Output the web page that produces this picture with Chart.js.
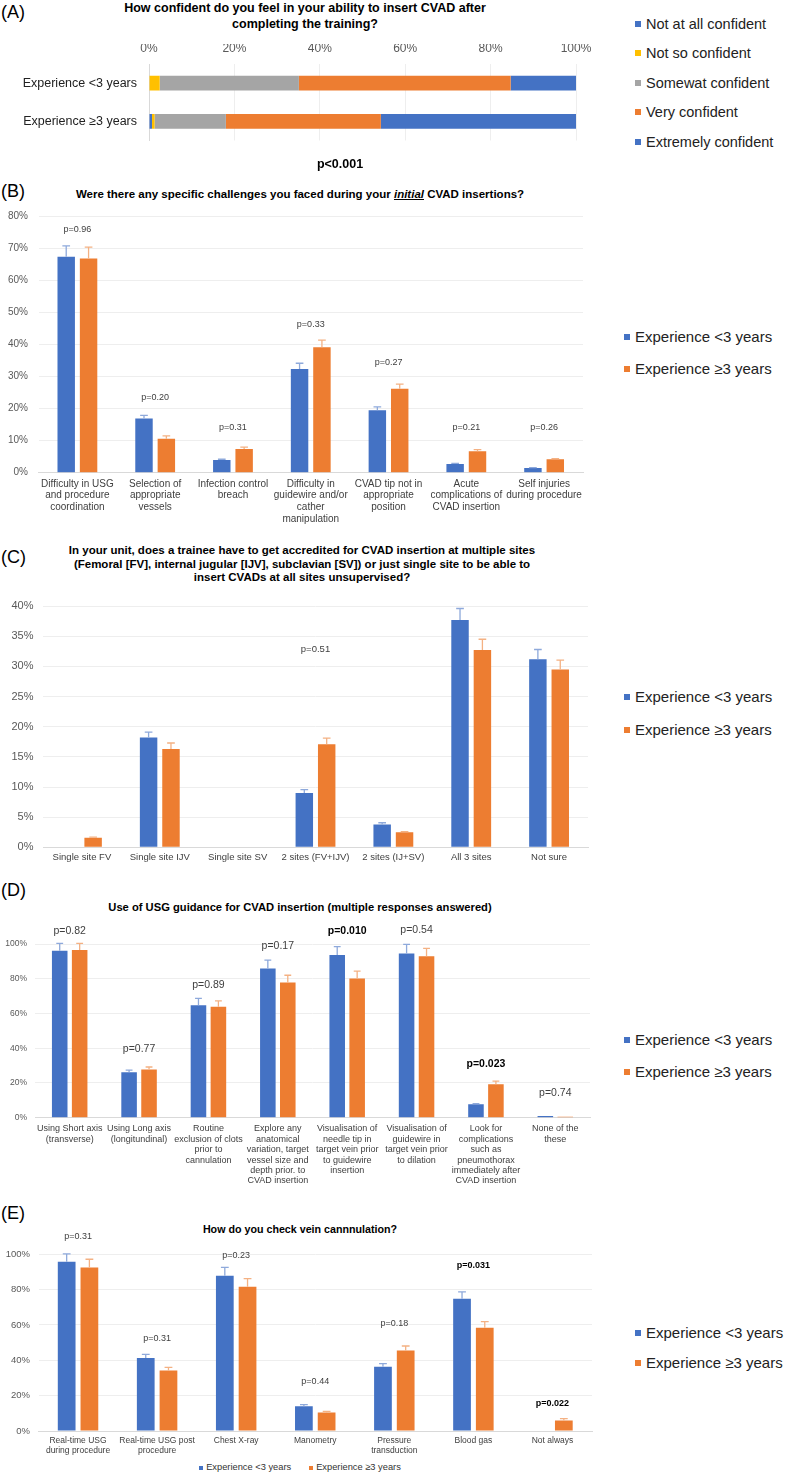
<!DOCTYPE html>
<html>
<head>
<meta charset="utf-8">
<script src="https://cdn.jsdelivr.net/npm/chart.js@4.4.1/dist/chart.umd.min.js"></script>
<style>
  html, body { margin: 0; padding: 0; background: #fff; }
  body { font-family: "Liberation Sans", Arial, sans-serif; }
  #page { position: relative; width: 790px; height: 1475px; overflow: hidden; background: #fff; }
  canvas { position: absolute; }
  .panel { position: absolute; font-size: 18px; color: #000; line-height: 20px; }
  .title { position: absolute; font-weight: bold; color: #000; text-align: center; white-space: nowrap; }
  .leg { position: absolute; white-space: nowrap; color: #222; }
  .leg span.sq { display: inline-block; width: 6px; height: 6px; margin-right: 5px; vertical-align: middle; position: relative; top: -1px; }
  .txt { position: absolute; white-space: nowrap; }
</style>
</head>
<body>
<div id="page">
  <!-- Panel A -->
  <div class="panel" style="left:1px; top:2px;">(A)</div>
  <div class="title" style="left:55px; width:500px; top:0px; font-size:12.5px; line-height:16px;">How confident do you feel in your ability to insert CVAD after<br>completing the training?</div>
  <canvas id="chartA" width="600" height="130" style="left:0; top:30px; width:600px; height:130px;"></canvas>
  <div class="txt" style="left:290px; width:100px; text-align:center; top:157px; font-weight:bold; font-size:12.5px; line-height:14px;">p&lt;0.001</div>
  <div id="legA"></div>

  <!-- Panel B -->
  <div class="panel" style="left:1px; top:181px;">(B)</div>
  <div class="title" style="left:50px; width:500px; top:187px; font-size:11.5px; line-height:14px;">Were there any specific challenges you faced during your <i><u>initial</u></i> CVAD insertions?</div>
  <canvas id="chartB" width="600" height="326" style="left:0; top:200px; width:600px; height:326px;"></canvas>
  <div id="legB"></div>

  <!-- Panel C -->
  <div class="panel" style="left:1px; top:547px;">(C)</div>
  <div class="title" style="left:52px; width:500px; top:544px; font-size:11.5px; line-height:13.7px;">In your unit, does a trainee have to get accredited for CVAD insertion at multiple sites<br>(Femoral [FV], internal jugular [IJV], subclavian [SV]) or just single site to be able to<br>insert CVADs at all sites unsupervised?</div>
  <canvas id="chartC" width="600" height="278" style="left:0; top:590px; width:600px; height:278px;"></canvas>
  <div id="legC"></div>

  <!-- Panel D -->
  <div class="panel" style="left:1px; top:880px;">(D)</div>
  <div class="title" style="left:50px; width:500px; top:900px; font-size:11.2px; line-height:14px;">Use of USG guidance for CVAD insertion (multiple responses answered)</div>
  <canvas id="chartD" width="600" height="271" style="left:0; top:915px; width:600px; height:271px;"></canvas>
  <div id="legD"></div>

  <!-- Panel E -->
  <div class="panel" style="left:1px; top:1203px;">(E)</div>
  <div class="title" style="left:50px; width:500px; top:1222px; font-size:10.7px; line-height:14px;">How do you check vein cannnulation?</div>
  <canvas id="chartE" width="600" height="226" style="left:0; top:1230px; width:600px; height:226px;"></canvas>
  <div id="legEbottom" class="txt" style="left:150px; width:300px; top:1460px; text-align:center; font-size:9.3px; line-height:14px; color:#333;"></div>
  <div id="legE"></div>
</div>

<script>
// ---------------- DATA ----------------
// Panel A
const confRows = ["Experience <3 years", "Experience \u22653 years"];
const confLevels = ["Not at all confident", "Not so confident", "Somewat confident", "Very confident", "Extremely confident"];
const confNotAtAll = [0, 0.7];
const confNotSo = [2.5, 0.6];
const confSomewhat = [32.6, 16.7];
const confVery = [49.6, 36.3];
const confExtremely = [15.3, 45.7];
const confTicks = [0, 20, 40, 60, 80, 100];

// Groups (series names)
const groupNames = ["Experience <3 years", "Experience \u22653 years"];

// Panel B
const chalLabels = [
  ["Difficulty in USG", "and procedure", "coordination"],
  ["Selection of", "appropriate", "vessels"],
  ["Infection control", "breach"],
  ["Difficulty in", "guidewire and/or", "cather", "manipulation"],
  ["CVAD tip not in", "appropriate", "position"],
  ["Acute", "complications of", "CVAD insertion"],
  ["Self injuries", "during procedure"]
];
const chalLess3 = [67.5, 16.9, 4.0, 32.4, 19.5, 2.7, 1.5];
const chalLess3Err = [70.9, 17.9, 4.2, 34.2, 20.6, 2.9, 1.6];
const chalMore3 = [66.9, 10.6, 7.4, 39.2, 26.2, 6.7, 4.2];
const chalMore3Err = [70.5, 11.5, 8.0, 41.4, 27.7, 7.2, 4.4];
const chalP = ["p=0.96", "p=0.20", "p=0.31", "p=0.33", "p=0.27", "p=0.21", "p=0.26"];
const chalPAt = [76.1, 23.4, 14.0, 46.2, 34.4, 14.0, 14.0];

// Panel C
const siteLabels = ["Single site FV", "Single site IJV", "Single site SV", "2 sites (FV+IJV)", "2 sites (IJ+SV)", "All 3 sites", "Not sure"];
const siteLess3 = [0, 18.2, 0, 9.0, 3.8, 37.7, 31.2];
const siteLess3Err = [null, 19.1, null, 9.55, 4.07, 39.6, 32.8];
const siteMore3 = [1.57, 16.3, 0, 17.1, 2.5, 32.7, 29.5];
const siteMore3Err = [1.68, 17.3, null, 18.1, 2.6, 34.5, 31.05];
const siteP = [null, null, null, "p=0.51", null, null, null];
const sitePAt = [null, null, null, 32.8, null, null, null];

// Panel D
const usgLabels = [
  ["Using Short axis", "(transverse)"],
  ["Using Long axis", "(longitundinal)"],
  ["Routine", "exclusion of clots", "prior to", "cannulation"],
  ["Explore any", "anatomical", "variation, target", "vessel size and", "depth prior. to", "CVAD insertion"],
  ["Visualisation of", "needle tip in", "target vein prior", "to guidewire", "insertion"],
  ["Visualisation of", "guidewire in", "target vein prior", "to dilation"],
  ["Look for", "complications", "such as", "pneumothorax", "immediately after", "CVAD insertion"],
  ["None of the", "these"]
];
const usgLess3 = [96.1, 26.1, 64.7, 85.9, 93.6, 94.6, 7.7, 1.0];
const usgLess3Err = [100.4, 27.4, 68.7, 90.7, 98.5, 99.8, 8.1, null];
const usgMore3 = [96.5, 27.8, 63.9, 77.8, 80.1, 92.9, 19.3, 0.6];
const usgMore3Err = [100.4, 29.2, 67.2, 82.0, 84.4, 97.5, 21.0, null];
const usgP = ["p=0.82", "p=0.77", "p=0.89", "p=0.17", "p=0.010", "p=0.54", "p=0.023", "p=0.74"];
const usgPAt = [107.7, 39.6, 76.4, 98.8, 107.3, 108.1, 30.9, 13.9];
const usgPBold = [false, false, false, false, true, false, true, false];

// Panel E
const checkLabels = [
  ["Real-time USG", "during procedure"],
  ["Real-time USG post", "procedure"],
  "Chest X-ray",
  "Manometry",
  ["Pressure", "transduction"],
  "Blood gas",
  "Not always"
];
const checkLess3 = [95.8, 41.3, 87.9, 14.0, 36.4, 74.9, 0];
const checkLess3Err = [100.2, 43.4, 92.6, 14.9, 38.1, 78.7, null];
const checkMore3 = [92.6, 34.3, 81.7, 10.4, 45.5, 58.5, 6.0];
const checkMore3Err = [97.2, 36.0, 86.2, 11.1, 48.1, 61.9, 7.0];
const checkP = ["p=0.31", "p=0.31", "p=0.23", "p=0.44", "p=0.18", "p=0.031", "p=0.022"];
const checkPAt = [110.0, 52.1, 99.2, 27.9, 60.9, 93.4, 15.7];
const checkPBold = [false, false, false, false, false, true, true];

// ---------------- STYLE ----------------
const BLUE = "#4472C4", ORANGE = "#ED7D31", GREY = "#A5A5A5", GOLD = "#FFC000";
const BLUE_ERR = "#8EA9DB", ORANGE_ERR = "#F4B183";
const TICK = "#595959", LABEL = "#404040", GRID = "#EEEEEE", AXIS = "#D9D9D9";
const FAMILY = '"Liberation Sans", Arial, sans-serif';

Chart.defaults.font.family = FAMILY;
Chart.defaults.color = TICK;
Chart.defaults.animation = false;

// Error bars (upper only) drawn from dataset values through the y scale
const errorBars = {
  id: 'errorBars',
  afterDatasetsDraw(chart) {
    const ctx = chart.ctx, ys = chart.scales.y;
    chart.data.datasets.forEach((ds, i) => {
      if (!ds.errTop) return;
      const meta = chart.getDatasetMeta(i);
      meta.data.forEach((bar, j) => {
        const v = ds.errTop[j];
        if (v == null) return;
        const y1 = ys.getPixelForValue(v);
        const cap = Math.max(3, bar.width * 0.22);
        ctx.save();
        ctx.strokeStyle = ds.errColor;
        ctx.lineWidth = 1.3;
        ctx.beginPath();
        ctx.moveTo(bar.x, bar.y);
        ctx.lineTo(bar.x, y1);
        ctx.moveTo(bar.x - cap, y1);
        ctx.lineTo(bar.x + cap, y1);
        ctx.stroke();
        ctx.restore();
      });
    });
  }
};

// p-value annotations anchored in data units
const pLabels = {
  id: 'pLabels',
  afterDraw(chart, args, opts) {
    if (!opts || !opts.texts) return;
    const ctx = chart.ctx, xs = chart.scales.x, ys = chart.scales.y;
    opts.texts.forEach((t, j) => {
      if (t == null) return;
      const x = xs.getPixelForValue(j);
      const y = ys.getPixelForValue(opts.at[j]);
      const bold = opts.bold && opts.bold[j];
      ctx.save();
      ctx.font = (bold ? 'bold ' : '') + opts.size + 'px ' + FAMILY;
      ctx.fillStyle = bold ? '#000' : LABEL;
      ctx.textAlign = 'center';
      ctx.textBaseline = 'middle';
      ctx.fillText(t, x, y);
      ctx.restore();
    });
  }
};

function groupedBar(id, cfg) {
  return new Chart(document.getElementById(id), {
    type: 'bar',
    data: {
      labels: cfg.labels,
      datasets: [
        { label: groupNames[0], data: cfg.a, errTop: cfg.aErr, errColor: BLUE_ERR, backgroundColor: BLUE,
          categoryPercentage: 0.575, barPercentage: 0.78 },
        { label: groupNames[1], data: cfg.b, errTop: cfg.bErr, errColor: ORANGE_ERR, backgroundColor: ORANGE,
          categoryPercentage: 0.575, barPercentage: 0.78 }
      ]
    },
    options: {
      responsive: false,
      devicePixelRatio: 1,
      layout: { padding: cfg.padding },
      plugins: {
        legend: { display: false },
        tooltip: { enabled: false },
        pLabels: { texts: cfg.p, at: cfg.pAt, bold: cfg.pBold, size: cfg.pSize }
      },
      scales: {
        x: {
          grid: { display: false, drawTicks: false },
          border: { display: true, color: AXIS, width: 1 },
          ticks: { color: LABEL, autoSkip: false, maxRotation: 0, minRotation: 0, padding: cfg.xPad,
                   font: { size: cfg.xSize, lineHeight: cfg.xLH } },
          afterFit: s => { s.height = cfg.xH; }
        },
        y: {
          min: 0, max: cfg.max,
          grid: { color: GRID, drawTicks: false },
          border: { display: false },
          ticks: { stepSize: cfg.step, color: TICK, padding: cfg.yPad, font: { size: cfg.ySize },
                   callback: v => v + '%' },
          afterFit: s => { s.width = cfg.yW; }
        }
      }
    },
    plugins: [errorBars, pLabels]
  });
}

// ---------------- PANEL A ----------------
new Chart(document.getElementById('chartA'), {
  type: 'bar',
  data: {
    labels: confRows,
    datasets: [
      { label: confLevels[0], data: confNotAtAll, backgroundColor: BLUE },
      { label: confLevels[1], data: confNotSo, backgroundColor: GOLD },
      { label: confLevels[2], data: confSomewhat, backgroundColor: GREY },
      { label: confLevels[3], data: confVery, backgroundColor: ORANGE },
      { label: confLevels[4], data: confExtremely, backgroundColor: BLUE }
    ]
  },
  options: {
    indexAxis: 'y',
    responsive: false,
    devicePixelRatio: 1,
    layout: { padding: { top: 14, right: 24, bottom: 8, left: 0 } },
    datasets: { bar: { categoryPercentage: 1, barPercentage: 0.39 } },
    plugins: { legend: { display: false }, tooltip: { enabled: false } },
    scales: {
      x: {
        position: 'top', stacked: true, min: 0, max: 100,
        afterBuildTicks: s => { s.ticks = confTicks.map(v => ({ value: v })); },
        grid: { color: GRID, drawTicks: false },
        border: { display: false },
        ticks: { color: TICK, padding: 8, font: { size: 12 }, callback: v => v + '%' },
        afterFit: s => { s.height = 20; }
      },
      y: {
        stacked: true,
        grid: { display: false, drawTicks: false },
        border: { display: true, color: AXIS },
        ticks: { color: '#222', padding: 12, font: { size: 12.5 } },
        afterFit: s => { s.width = 149; }
      }
    }
  }
});

// ---------------- PANEL B ----------------
groupedBar('chartB', {
  labels: chalLabels, a: chalLess3, aErr: chalLess3Err, b: chalMore3, bErr: chalMore3Err,
  p: chalP, pAt: chalPAt, pSize: 9,
  max: 80, step: 10, padding: { top: 16.7, right: 17, bottom: 0, left: 0 },
  xH: 53.3, xPad: 5.3, xSize: 10, xLH: 1.18, yW: 38.5, yPad: 10.5, ySize: 10
});

// ---------------- PANEL C ----------------
groupedBar('chartC', {
  labels: siteLabels, a: siteLess3, aErr: siteLess3Err, b: siteMore3, bErr: siteMore3Err,
  p: siteP, pAt: sitePAt, pSize: 9.5,
  max: 40, step: 5, padding: { top: 11.7, right: 12, bottom: 0, left: 0 },
  xH: 20.7, xPad: 4, xSize: 9.5, xLH: 1.2, yW: 43, yPad: 9.5, ySize: 11
});

// ---------------- PANEL D ----------------
groupedBar('chartD', {
  labels: usgLabels, a: usgLess3, aErr: usgLess3Err, b: usgMore3, bErr: usgMore3Err,
  p: usgP, pAt: usgPAt, pBold: usgPBold, pSize: 10.5,
  max: 100, step: 20, padding: { top: 29, right: 10, bottom: 0, left: 0 },
  xH: 68.3, xPad: 6, xSize: 9, xLH: 1.155, yW: 35, yPad: 8, ySize: 8.5
});

// ---------------- PANEL E ----------------
groupedBar('chartE', {
  labels: checkLabels, a: checkLess3, aErr: checkLess3Err, b: checkMore3, bErr: checkMore3Err,
  p: checkP, pAt: checkPAt, pBold: checkPBold, pSize: 9,
  max: 100, step: 20, padding: { top: 24.3, right: 8, bottom: 0, left: 0 },
  xH: 25, xPad: 5.2, xSize: 8.5, xLH: 1.14, yW: 38.5, yPad: 8.5, ySize: 9.5
});

// ---------------- LEGENDS (HTML) ----------------
function sideLegend(id, items, left, tops, size) {
  const host = document.getElementById(id);
  items.forEach((it, k) => {
    const d = document.createElement('div');
    d.className = 'leg';
    d.style.left = left + 'px';
    d.style.top = (tops[k] - size * 0.6) + 'px';
    d.style.fontSize = size + 'px';
    d.style.lineHeight = (size * 1.2) + 'px';
    d.innerHTML = '<span class="sq" style="background:' + it.color + '"></span>' + it.text;
    host.appendChild(d);
  });
}
sideLegend('legA', confLevels.map((t, k) => ({ text: t, color: [BLUE, GOLD, GREY, ORANGE, BLUE][k] })),
  635, [25, 54, 84, 113, 143], 14.5);
const grpItems = [{ text: groupNames[0], color: BLUE }, { text: groupNames[1], color: ORANGE }];
sideLegend('legB', grpItems, 624, [337, 369], 15);
sideLegend('legC', grpItems, 624, [697, 730], 15);
sideLegend('legD', grpItems, 624, [1040, 1072], 15);
sideLegend('legE', grpItems, 635, [1333, 1363], 15);

document.getElementById('legEbottom').innerHTML =
  '<span style="display:inline-block;width:4px;height:4px;background:' + BLUE + ';margin-right:3px;vertical-align:middle;"></span>' + groupNames[0] +
  '<span style="display:inline-block;width:18px;"></span>' +
  '<span style="display:inline-block;width:4px;height:4px;background:' + ORANGE + ';margin-right:3px;vertical-align:middle;"></span>' + groupNames[1];
</script>
</body>
</html>
